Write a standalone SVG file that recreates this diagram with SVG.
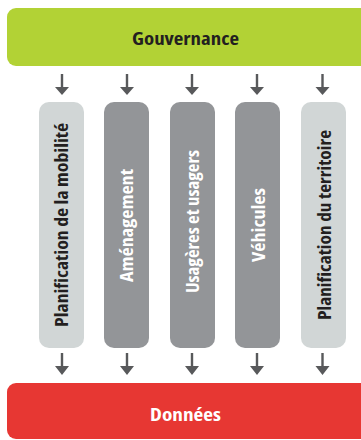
<svg xmlns="http://www.w3.org/2000/svg" width="361" height="440" viewBox="0 0 361 440">
<style>
.t{font-family:"Open Sans","Liberation Sans",sans-serif;font-weight:bold;text-anchor:middle;font-stretch:semi-condensed}
.dark{fill:#231f20}
.white{fill:#ffffff}
.conn{stroke:#58595b;stroke-width:2.4;fill:none}
.head{fill:#58595b}
.light{fill:#d1d6d6}
.grey{fill:#939598}
</style>
<rect width="361" height="440" fill="#ffffff"/>
<g id="gouvernance">
<rect x="7" y="8" width="362" height="58" rx="9" fill="#b2d235"/>
<text class="t dark" x="185.5" y="45" font-size="17" textLength="107" lengthAdjust="spacingAndGlyphs">Gouvernance</text>
</g>
<g id="planification-mobilite">
<rect class="light" x="39" y="102" width="45" height="246" rx="10"/>
<text class="t dark" font-size="17.5" transform="translate(68.3,225) rotate(-90)" textLength="204" lengthAdjust="spacingAndGlyphs">Planification de la mobilité</text>
</g>
<g id="amenagement">
<rect class="grey" x="104" y="102" width="45" height="246" rx="10"/>
<text class="t white" font-size="17.5" transform="translate(133.3,225.5) rotate(-90)" textLength="113" lengthAdjust="spacingAndGlyphs">Aménagement</text>
</g>
<g id="usagers">
<rect class="grey" x="170" y="102" width="45" height="246" rx="10"/>
<text class="t white" font-size="17.5" transform="translate(198.5,221.5) rotate(-90)" textLength="143" lengthAdjust="spacingAndGlyphs">Usagères et usagers</text>
</g>
<g id="vehicules">
<rect class="grey" x="235" y="102" width="45" height="246" rx="10"/>
<text class="t white" font-size="17.5" transform="translate(265,225) rotate(-90)" textLength="74" lengthAdjust="spacingAndGlyphs">Véhicules</text>
</g>
<g id="planification-territoire">
<rect class="light" x="301" y="102" width="45" height="246" rx="10"/>
<text class="t dark" font-size="17.5" transform="translate(331,225) rotate(-90)" textLength="190" lengthAdjust="spacingAndGlyphs">Planification du territoire</text>
</g>
<g id="donnees">
<rect x="7" y="383" width="362" height="56" rx="9" fill="#e73733"/>
<text class="t white" x="185.5" y="421" font-size="17" textLength="71" lengthAdjust="spacingAndGlyphs">Données</text>
</g>
<g id="connectors">
<path class="conn" d="M62,74V88M127,74V88M192,74V88M257,74V88M322.5,74V88M62,353V367M127,353V367M192,353V367M257,353V367M322.5,353V367"/>
<path class="head" d="M55,87H69L62,95ZM120,87H134L127,95ZM185,87H199L192,95ZM250,87H264L257,95ZM315.5,87H329.5L322.5,95Z"/>
<path class="head" d="M55,366H69L62,375ZM120,366H134L127,375ZM185,366H199L192,375ZM250,366H264L257,375ZM315.5,366H329.5L322.5,375Z"/>
</g>
</svg>
